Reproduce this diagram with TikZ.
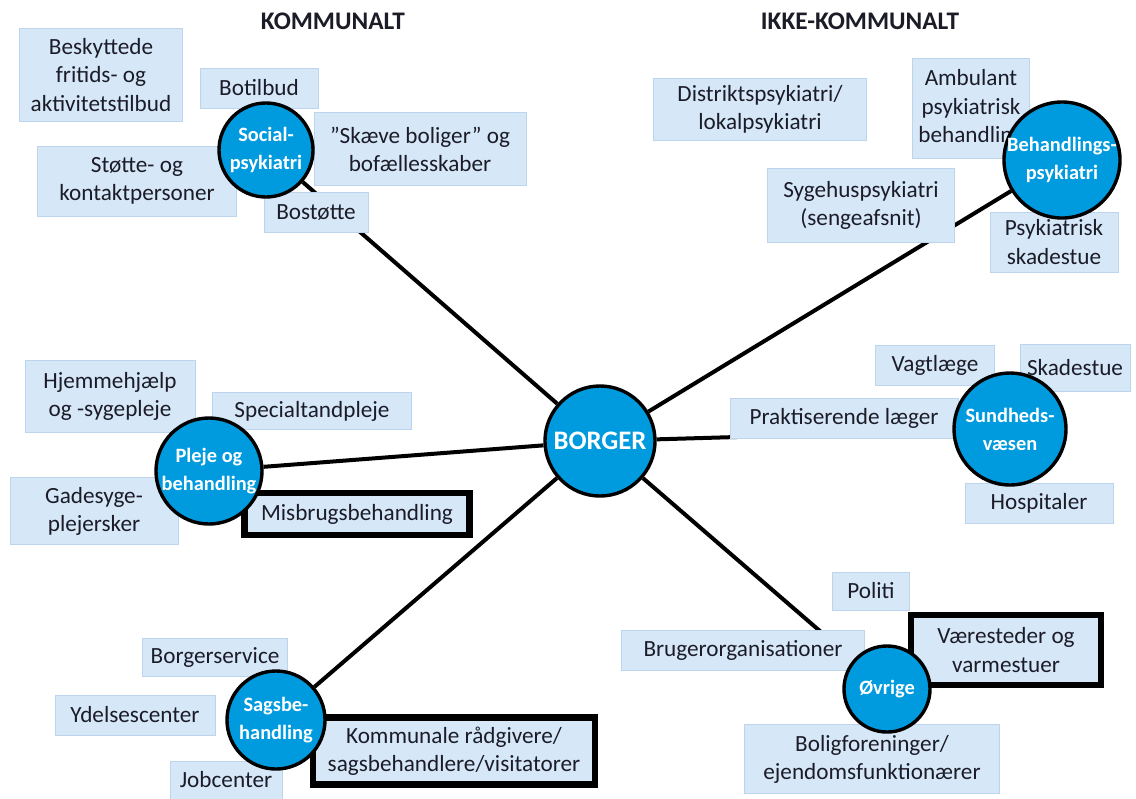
\documentclass[tikz,border=0pt]{standalone}
\usepackage{fontspec}
\setmainfont{Carlito}
\usetikzlibrary{backgrounds}
\definecolor{boxblue}{RGB}{214,232,248}
\definecolor{boxedge}{RGB}{188,212,236}
\definecolor{hubblue}{RGB}{0,155,222}
\definecolor{tekst}{RGB}{28,28,40}
\begin{document}
\begin{tikzpicture}[x=0.025cm,y=-0.025cm,
  tilbud/.style={draw=boxedge,fill=boxblue,line width=0.4pt,inner sep=0pt,align=center,text=tekst,font=\fontsize{16.5}{20}\selectfont},
  tykboks/.style={tilbud,draw=black,line width=1.7mm},
  hub/.style={circle,draw=black,line width=0.85mm,fill=hubblue,inner sep=-0.4cm,align=center,text=white,font=\fontsize{14.5}{20}\selectfont\bfseries},
  overskrift/.style={text=tekst,font=\fontsize{18}{20}\selectfont\bfseries},
  forbind/.style={line width=1mm}]
\useasboundingbox (0,0) rectangle (1136,798);
\node[overskrift] (komm) at (333,21) {KOMMUNALT};
\node[overskrift] (ikkekomm) at (860,21) {IKKE-KOMMUNALT};
% socialpsykiatri
\node[tilbud,minimum width=4.08cm,minimum height=2.33cm] (beskyt) at (101,75) {Beskyttede\\fritids- og\\aktivitetstilbud};
\node[tilbud,minimum width=2.95cm,minimum height=1cm] (botilbud) at (259,88) {Botilbud};
\node[tilbud,minimum width=5.3cm,minimum height=1.83cm] (skaeve) at (420,149) {”Skæve boliger” og\\bofællesskaber};
\node[tilbud,minimum width=4.98cm,minimum height=1.75cm] (stoette) at (137,181) {Støtte- og\\kontaktpersoner};
\node[tilbud,minimum width=2.6cm,minimum height=1cm] (bostoette) at (316,212) {Bostøtte};
% behandlingspsykiatri
\node[tilbud,minimum width=5.33cm,minimum height=1.55cm] (distrikt) at (760,109) {Distriktspsykiatri/\\lokalpsykiatri};
\node[tilbud,minimum width=2.93cm,minimum height=2.5cm] (ambulant) at (971,108) {Ambulant\\psykiatrisk\\behandling};
\node[tilbud,minimum width=4.68cm,minimum height=1.85cm] (sygehus) at (861,205) {Sygehuspsykiatri\\(sengeafsnit)};
\node[tilbud,minimum width=3.2cm,minimum height=1.5cm] (psykskade) at (1054,242) {Psykiatrisk\\skadestue};
% sundhedsvaesen
\node[tilbud,minimum width=2.98cm,minimum height=1cm] (vagt) at (935,365) {Vagtlæge};
\node[tilbud,minimum width=2.75cm,minimum height=1.18cm] (skadestue) at (1075,368) {Skadestue};
\node[tilbud,minimum width=5.7cm,minimum height=1cm] (praktis) at (844,418) {Praktiserende læger};
\node[tilbud,minimum width=3.7cm,minimum height=1cm] (hospital) at (1039,503) {Hospitaler};
% pleje og behandling
\node[tilbud,minimum width=4.25cm,minimum height=1.8cm] (hjemme) at (110,396) {Hjemmehjælp\\og -sygepleje};
\node[tilbud,minimum width=4.98cm,minimum height=0.93cm] (special) at (312,411) {Specialtandpleje};
\node[tilbud,minimum width=4.2cm,minimum height=1.68cm] (gade) at (94,511) {Gadesyge-\\plejersker};
\node[tykboks,minimum width=5.63cm,minimum height=1.05cm] (misbrug) at (357,514) {Misbrugsbehandling};
% sagsbehandling
\node[tilbud,minimum width=3.63cm,minimum height=0.95cm] (borgerserv) at (215,657) {Borgerservice};
\node[tilbud,minimum width=4cm,minimum height=1cm] (ydelse) at (135,715) {Ydelsescenter};
\node[tilbud,minimum width=2.8cm,minimum height=0.95cm] (job) at (226,780) {Jobcenter};
\node[tykboks,minimum width=7.05cm,minimum height=1.68cm] (raadgiver) at (454,751) {Kommunale rådgivere/\\sagsbehandlere/visitatorer};
% oevrige
\node[tilbud,minimum width=1.93cm,minimum height=0.95cm] (politi) at (871,591) {Politi};
\node[tilbud,minimum width=6.08cm,minimum height=1cm] (brugerorg) at (743,650) {Brugerorganisationer};
\node[tykboks,minimum width=4.75cm,minimum height=1.75cm] (vaere) at (1006,650) {Væresteder og\\varmestuer};
\node[tilbud,minimum width=6.38cm,minimum height=1.73cm] (bolig) at (872,759) {Boligforeninger/\\ejendomsfunktionærer};
% cirkler
\node[hub,minimum size=2.75cm,font=\fontsize{19}{22}\selectfont\bfseries] (borger) at (600,441) {BORGER};
\node[hub,minimum size=2.35cm] (social) at (266,150) {Social-\\psykiatri};
\node[hub,minimum size=2.9cm] (behandl) at (1062,160) {Behandlings-\\psykiatri};
\node[hub,minimum size=2.8cm] (sundhed) at (1010,429) {Sundheds-\\væsen};
\node[hub,minimum size=2.65cm] (pleje) at (209,471) {Pleje og\\behandling};
\node[hub,minimum size=2.45cm] (sagsbe) at (276,720) {Sagsbe-\\handling};
\node[hub,minimum size=2.15cm] (ovrige) at (887,689) {Øvrige};
\begin{scope}[on background layer]
\draw[forbind] (borger) -- (social);
\draw[forbind] (borger) -- (behandl);
\draw[forbind] (borger) -- (sundhed);
\draw[forbind] (borger) -- (pleje);
\draw[forbind] (borger) -- (sagsbe);
\draw[forbind] (borger) -- (ovrige);
\end{scope}
\end{tikzpicture}
\end{document}
